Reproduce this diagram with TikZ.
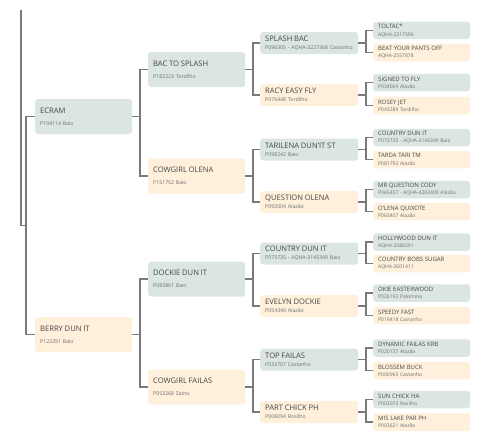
\documentclass[tikz,border=0pt]{standalone}
\usepackage{fontspec}
\setmainfont{Open Sans}
\usetikzlibrary{calc}
\definecolor{pedline}{RGB}{122, 122, 122}
\definecolor{pedmale}{RGB}{220, 230, 225}
\definecolor{pedfemale}{RGB}{254, 240, 218}
\definecolor{pedname}{RGB}{70, 70, 70}
\definecolor{pedsub}{RGB}{110, 110, 110}
\setlength{\parindent}{0pt}
\newcommand{\hname}[1]{{\fontsize{7.6}{8}\selectfont\color{pedname}#1}}
\newcommand{\gname}[1]{{\fontsize{6}{7}\selectfont\color{pedname}#1}}

\begin{document}
\begin{tikzpicture}[
    x=1pt, y=-1pt,
    box/.style={
        rectangle,
        rounded corners=3pt,
        anchor=west,
        inner xsep=5pt,
        inner ysep=0pt,
        align=left,
        text=pedsub
    },
    bigbox/.style={box, text width=87pt, minimum height=35pt, font=\fontsize{5.2}{12.3}\selectfont},
    midbox/.style={box, text width=88pt, minimum height=22pt, font=\fontsize{5.2}{8.2}\selectfont},
    smallbox/.style={box, text width=87pt, minimum height=17.5pt, font=\fontsize{5}{7.3}\selectfont},
    male/.style={fill=pedmale},
    female/.style={fill=pedfemale},
    link/.style={
        draw=pedline,
        line width=1.3pt
    }
]

% Page
\useasboundingbox (0,0) rectangle (494,444);
\fill[white] (0,0) rectangle (494,444);

% Parents
\node[bigbox, male] (ecram) at (35,116.5) {\hname{ECRAM}\\P194114 Baio};
\node[bigbox, female] (berry) at (35,334.5) {\hname{BERRY DUN IT}\\P122291 Baio};

% Grandparents
\node[bigbox, male] (bacto) at (148,69.5) {\hname{BAC TO SPLASH}\\P182223 Tordilho};
\node[bigbox, female] (cowgirlo) at (148,176) {\hname{COWGIRL OLENA}\\P151752 Baio};
\node[bigbox, male] (dockie) at (148,279) {\hname{DOCKIE DUN IT}\\P083861 Baio};
\node[bigbox, female] (cowgirlf) at (148,387) {\hname{COWGIRL FAILAS}\\P053268 Zaino};

% Great-grandparents
\node[midbox, male] (splash) at (260,43) {\hname{SPLASH BAC}\\P096305 - AQHA-3227368 Castanho};
\node[midbox, female] (racy) at (260,95) {\hname{RACY EASY FLY}\\P076448 Tordilho};
\node[midbox, male] (tarilena) at (260,149.5) {\hname{TARILENA DUN'IT ST}\\P098242 Baio};
\node[midbox, female] (question) at (260,202) {\hname{QUESTION OLENA}\\P092004 Alazão};
\node[midbox, male] (countryd) at (260,253.5) {\hname{COUNTRY DUN IT}\\P073735 - AQHA-3145349 Baio};
\node[midbox, female] (evelyn) at (260,306) {\hname{EVELYN DOCKIE}\\P054340 Alazão};
\node[midbox, male] (topf) at (260,359.5) {\hname{TOP FAILAS}\\P033707 Castanho};
\node[midbox, female] (partc) at (260,412) {\hname{PART CHICK PH}\\P008094 Rosilho};

% Great-great-grandparents
\node[smallbox, male] (toltac) at (373,30.5) {\gname{TOLTAC*}\\AQHA-2217596};
\node[smallbox, female] (beat) at (373,52.5) {\gname{BEAT YOUR PANTS OFF}\\AQHA-2557878};
\node[smallbox, male] (signed) at (373,82.5) {\gname{SIGNED TO FLY}\\P034069 Alazão};
\node[smallbox, female] (rosey) at (373,105.5) {\gname{ROSEY JET}\\P043289 Tordilho};
\node[smallbox, male] (countryi) at (373,137.5) {\gname{COUNTRY DUN IT}\\P073735 - AQHA-3145349 Baio};
\node[smallbox, female] (tarda) at (373,159.5) {\gname{TARDA TARI TM}\\P081792 Alazão};
\node[smallbox, male] (mrq) at (373,189.5) {\gname{MR QUESTION CODY}\\P065457 - AQHA-4202400 Alazão};
\node[smallbox, female] (olena) at (373,211.5) {\gname{O'LENA QUIXOTE}\\P063407 Alazão};
\node[smallbox, male] (hollywood) at (373,242) {\gname{HOLLYWOOD DUN IT}\\AQHA-2086591};
\node[smallbox, female] (bobs) at (373,263.5) {\gname{COUNTRY BOBS SUGAR}\\AQHA-2601411};
\node[smallbox, male] (okie) at (373,293) {\gname{OKIE EASTERWOOD}\\P026192 Palomino};
\node[smallbox, female] (speedy) at (373,315.5) {\gname{SPEEDY FAST}\\P019418 Castanho};
\node[smallbox, male] (dynamic) at (373,348) {\gname{DYNAMIC FAILAS KRB}\\P020137 Alazão};
\node[smallbox, female] (blossem) at (373,370.5) {\gname{BLOSSEM BUCK}\\P000965 Castanho};
\node[smallbox, male] (sunc) at (373,399.5) {\gname{SUN CHICK HA}\\P003073 Rosilho};
\node[smallbox, female] (mislake) at (373,422) {\gname{MIS LAKE PAR PH}\\P003621 Alazão};

% Root line
\coordinate (top) at (21,10);
\draw[link] (ecram.west) -- +(-9,0) |- (berry.west);
\draw[link] (top) |- ($(ecram.west)!.5!(berry.west)+(-9,0)$);

% Connections
\foreach \p/\a/\b in {ecram/bacto/cowgirlo, berry/dockie/cowgirlf,
    bacto/splash/racy, cowgirlo/tarilena/question, dockie/countryd/evelyn, cowgirlf/topf/partc,
    splash/toltac/beat, racy/signed/rosey, tarilena/countryi/tarda, question/mrq/olena,
    countryd/hollywood/bobs, evelyn/okie/speedy, topf/dynamic/blossem, partc/sunc/mislake} {
    \draw[link] (\p.east) -- +(7.5,0) |- (\a.west);
    \draw[link] (\p.east) ++(7.5,0) |- (\b.west);
}

\end{tikzpicture}
\end{document}
